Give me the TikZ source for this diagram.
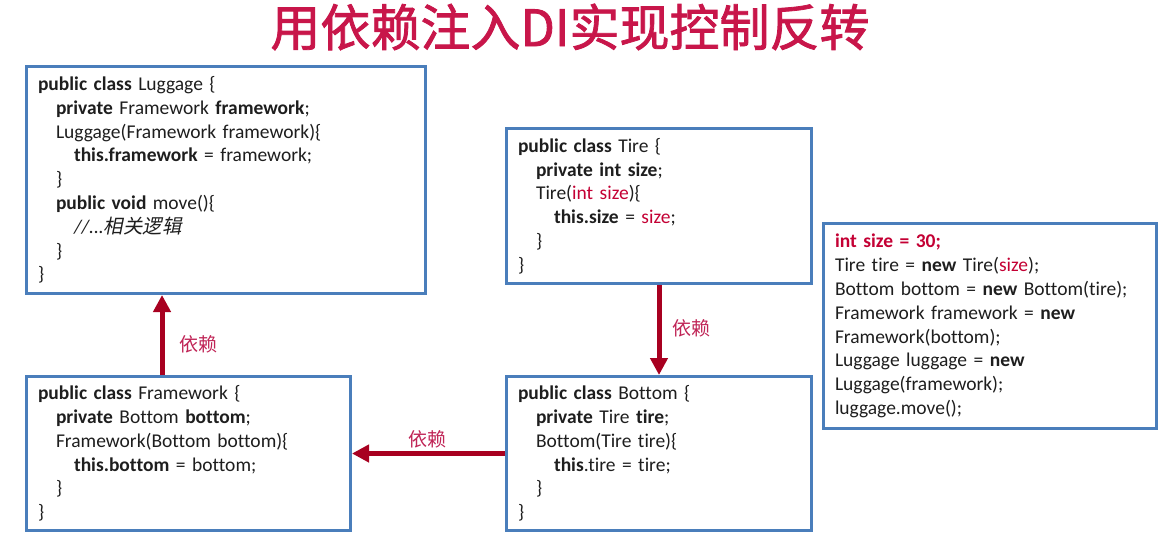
\documentclass[tikz,border=0pt]{standalone}
\usepackage{fontspec}
\setmainfont{Carlito}[Ligatures={TeX,NoCommon}]
\newfontfamily\cjk{Noto Sans CJK SC}
\newfontfamily\cjkit{Noto Sans CJK SC}[FakeSlant=0.2]
\newfontfamily\cjkhead{Noto Sans CJK SC}[FakeBold=1.6]
\usetikzlibrary{arrows.meta,calc}

\definecolor{boxblue}{RGB}{74,126,187}
\definecolor{titlered}{RGB}{200,22,74}
\definecolor{arrowred}{RGB}{168,0,32}
\definecolor{labelred}{RGB}{192,36,86}
\definecolor{codered}{RGB}{196,0,52}
\definecolor{codeink}{RGB}{30,30,30}

\newcommand{\kw}[1]{\textbf{#1}}
\newcommand{\hl}[1]{\textcolor{codered}{#1}}
\newcommand{\ia}{\hspace*{18pt}}
\newcommand{\ib}{\hspace*{36pt}}

\tikzset{
  codebox/.style={draw=boxblue, line width=3pt, fill=white, align=left,
    inner xsep=11.5pt, inner ysep=0pt, text=codeink,
    font=\fontsize{19.5}{23.8}\selectfont},
  dep/.style={draw=arrowred, line width=5pt,
    -{Triangle[length=17pt,width=17pt]}},
  deplabel/.style={text=labelred, font=\cjk\fontsize{19}{22}\selectfont}
}

\begin{document}
\begin{tikzpicture}[x=1pt,y=-1pt]
\useasboundingbox[fill=white] (0,0) rectangle (1161,536);

% heading
\node (title) at (570,27) {\textcolor{titlered}{\cjkhead\fontsize{50}{52}\selectfont 用依赖注入DI实现控制反转}};

% class Luggage
\node[codebox, text width=376pt, minimum height=227pt] (lug) at (226,180) {%
\kw{public class} Luggage \{\\
\ia\kw{private} Framework \kw{framework};\\
\ia Luggage(Framework framework)\{\\
\ib\kw{this.framework} = framework;\\
\ia\}\\
\ia\kw{public void} move()\{\\
\ib\textit{//...}{\cjkit 相关逻辑}\\
\ia\}\\
\}};

% class Tire
\node[codebox, text width=282pt, minimum height=155pt] (tire) at (659,206) {%
\kw{public class} Tire \{\\
\ia\kw{private int size};\\
\ia Tire(\hl{int size})\{\\
\ib\kw{this.size} = \hl{size};\\
\ia\}\\
\}};

% client code
\node[codebox, text width=310pt, minimum height=205pt] (main) at (990,326) {%
\hl{\kw{int size = 30;}}\\
Tire tire = \kw{new} Tire(\hl{size});\\
Bottom bottom = \kw{new} Bottom(tire);\\
Framework framework = \kw{new}\\
Framework(bottom);\\
Luggage luggage = \kw{new}\\
Luggage(framework);\\
luggage.move();};

% class Framework
\node[codebox, text width=301pt, minimum height=154pt] (fw) at (188.5,453.5) {%
\kw{public class} Framework \{\\
\ia\kw{private} Bottom \kw{bottom};\\
\ia Framework(Bottom bottom)\{\\
\ib\kw{this.bottom} = bottom;\\
\ia\}\\
\}};

% class Bottom
\node[codebox, text width=282pt, minimum height=154pt] (bot) at (659,453.5) {%
\kw{public class} Bottom \{\\
\ia\kw{private} Tire \kw{tire};\\
\ia Bottom(Tire tire)\{\\
\ib\kw{this}.tire = tire;\\
\ia\}\\
\}};

% dependency arrows
\coordinate (fwtop) at ($(fw.north west)!0.419!(fw.north east)$);
\draw[dep] (fwtop) -- (fwtop |- lug.south);
\draw[dep] (tire.south) -- (bot.north);
\draw[dep] (bot.west) -- (bot.west -| fw.east);

\node[deplabel] (l1) at (198,344) {依赖};
\node[deplabel] (l2) at (691,328) {依赖};
\node[deplabel] (l3) at (427,439) {依赖};
\end{tikzpicture}
\end{document}
